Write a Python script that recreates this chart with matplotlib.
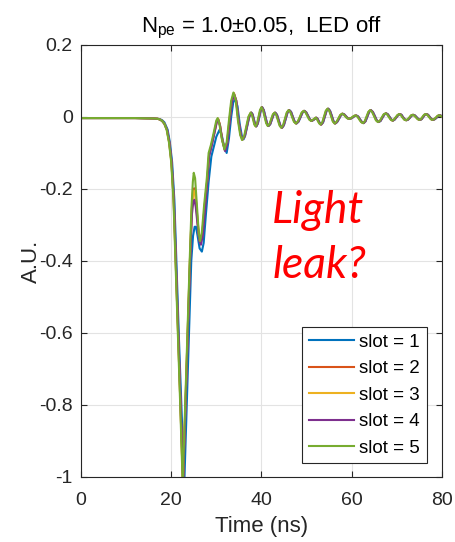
import matplotlib
matplotlib.use("Agg")
import matplotlib.pyplot as plt

plt.rcParams['font.family'] = ['Liberation Sans', 'DejaVu Sans']
plt.rcParams['mathtext.fontset'] = 'custom'
plt.rcParams['mathtext.rm'] = 'Liberation Sans'
plt.rcParams['mathtext.it'] = 'Liberation Sans:italic'

# 单光电子平均波形（按 slot 区分），前段为主脉冲
t_slot1 = [0, 4, 8, 12, 16, 17, 17.5, 18, 18.5, 19.2, 19.7, 20.2, 20.7, 21.2, 21.7, 22.25,
           22.9, 23.45, 23.95, 24.45, 24.85, 25.2, 25.5, 25.85, 26.3, 26.8, 27.2, 27.7, 28.3,
           28.9, 29.4, 30.0, 30.7, 31.2, 31.7, 32.3, 32.8, 33.3, 33.75, 34.2, 34.7, 35.2, 35.7, 36.05]
y_slot1 = [-0.003, -0.003, -0.003, -0.003, -0.004, -0.005, -0.006, -0.009, -0.015, -0.035, -0.07,
           -0.125, -0.23, -0.42, -0.61, -0.80, -1.02, -0.80, -0.60, -0.40, -0.33, -0.305, -0.305,
           -0.33, -0.365, -0.374, -0.35, -0.27, -0.18, -0.11, -0.085, -0.055, -0.036, -0.05, -0.08,
           -0.10, -0.06, 0.0, 0.04, 0.05, 0.03, -0.02, -0.055, -0.062]

t_slot2 = [0, 4, 8, 12, 16, 17, 17.5, 18, 18.5, 19.05, 19.55, 20.05, 20.55, 21.05, 21.55, 22.05,
           22.6, 23.15, 23.65, 24.15, 24.55, 24.85, 25.1, 25.4, 25.8, 26.2, 26.5, 26.9, 27.4, 28.0,
           28.4, 28.9, 29.5, 30.1, 30.4, 30.8, 31.3, 31.9, 32.4, 32.9, 33.4, 33.9, 34.4, 34.9, 35.4, 35.8]
y_slot2 = [-0.003, -0.003, -0.003, -0.003, -0.004, -0.005, -0.007, -0.011, -0.019, -0.036, -0.07,
           -0.125, -0.23, -0.42, -0.61, -0.80, -1.02, -0.80, -0.60, -0.40, -0.26, -0.205, -0.198,
           -0.215, -0.28, -0.335, -0.35, -0.325, -0.25, -0.175, -0.105, -0.08, -0.047, -0.012,
           -0.005, -0.022, -0.062, -0.092, -0.072, -0.012, 0.043, 0.066, 0.046, -0.01, -0.05, -0.063]

t_slot3 = [0, 4, 8, 12, 16, 17, 17.5, 18, 18.5, 19.05, 19.55, 20.05, 20.55, 21.05, 21.55, 22.05,
           22.6, 23.15, 23.65, 24.15, 24.55, 24.85, 25.1, 25.4, 25.8, 26.2, 26.5, 26.9, 27.4, 28.0,
           28.4, 28.9, 29.5, 30.1, 30.4, 30.8, 31.3, 31.9, 32.4, 32.9, 33.4, 33.9, 34.4, 34.9, 35.4, 35.8]
y_slot3 = [-0.003, -0.003, -0.003, -0.003, -0.004, -0.005, -0.007, -0.011, -0.019, -0.036, -0.07,
           -0.125, -0.23, -0.42, -0.61, -0.80, -1.02, -0.80, -0.60, -0.40, -0.265, -0.212, -0.205,
           -0.222, -0.285, -0.338, -0.35, -0.325, -0.25, -0.175, -0.105, -0.08, -0.047, -0.012,
           -0.005, -0.022, -0.062, -0.092, -0.072, -0.012, 0.043, 0.066, 0.046, -0.01, -0.05, -0.063]

t_slot4 = [0, 4, 8, 12, 16, 17, 17.5, 18, 18.5, 19.1, 19.6, 20.1, 20.6, 21.1, 21.6, 22.1,
           22.65, 23.2, 23.7, 24.2, 24.6, 24.9, 25.15, 25.45, 25.85, 26.25, 26.6, 27.0, 27.5, 28.0,
           28.4, 28.9, 29.5, 30.1, 30.45, 30.85, 31.35, 31.95, 32.45, 32.95, 33.45, 33.95, 34.45,
           34.95, 35.45, 35.85]
y_slot4 = [-0.003, -0.003, -0.003, -0.003, -0.004, -0.005, -0.007, -0.011, -0.019, -0.036, -0.07,
           -0.125, -0.23, -0.42, -0.61, -0.80, -1.02, -0.80, -0.60, -0.40, -0.27, -0.235, -0.23,
           -0.25, -0.30, -0.345, -0.355, -0.33, -0.26, -0.18, -0.11, -0.085, -0.05, -0.015,
           -0.008, -0.025, -0.065, -0.095, -0.075, -0.015, 0.04, 0.063, 0.045, -0.01, -0.05, -0.062]

t_slot5 = [0, 4, 8, 12, 16, 17, 17.5, 18, 18.5, 19, 19.5, 20, 20.5, 21, 21.5, 22,
           22.55, 23.1, 23.6, 24.1, 24.5, 24.8, 25.0, 25.3, 25.7, 26.1, 26.4, 26.8, 27.3, 27.9,
           28.3, 28.8, 29.4, 30.0, 30.3, 30.7, 31.2, 31.8, 32.3, 32.8, 33.3, 33.8, 34.3, 34.8, 35.3, 35.7]
y_slot5 = [-0.003, -0.003, -0.003, -0.003, -0.004, -0.005, -0.007, -0.011, -0.019, -0.036, -0.07,
           -0.125, -0.23, -0.42, -0.61, -0.80, -1.02, -0.80, -0.60, -0.40, -0.25, -0.18, -0.155,
           -0.17, -0.245, -0.32, -0.345, -0.32, -0.245, -0.17, -0.10, -0.078, -0.045, -0.01,
           -0.003, -0.02, -0.06, -0.09, -0.07, -0.01, 0.045, 0.068, 0.048, -0.01, -0.05, -0.064]

# 主脉冲之后的振铃（各 slot 共用，仅有小的时间延迟）
t_ring = [36.18, 36.65, 37.13, 37.6, 37.88, 38.15, 38.43, 38.7, 39.03, 39.35, 39.68, 40.0,
          40.35, 40.7, 41.05, 41.4, 41.78, 42.15, 42.53, 42.9, 43.28, 43.65, 44.03, 44.4,
          44.8, 45.2, 45.6, 46.0, 46.4, 46.8, 47.2, 47.6, 48.04, 48.48, 48.91, 49.35,
          49.76, 50.18, 50.59, 51.0, 51.5, 52.0, 52.28, 52.55, 52.83, 53.1, 53.49, 53.88,
          54.26, 54.65, 55.04, 55.43, 55.81, 56.2, 56.61, 57.03, 57.44, 57.85, 58.21, 58.58,
          58.94, 59.3, 59.7, 60.1, 60.5, 60.9, 61.3, 61.7, 62.1, 62.5, 62.9, 63.3, 63.7, 64.1,
          64.53, 64.95, 65.38, 65.8, 66.23, 66.65, 67.08, 67.5, 67.88, 68.25, 68.63, 69.0,
          69.38, 69.75, 70.13, 70.5, 70.88, 71.25, 71.63, 72.0, 72.38, 72.75, 73.13, 73.5,
          73.88, 74.25, 74.63, 75.0, 75.35, 75.7, 76.05, 76.4, 76.78, 77.15, 77.53, 77.9,
          78.28, 78.65, 79.03, 79.4, 79.7, 80.0, 80.5]
y_ring = [-0.053, -0.026, 0.001, 0.012, 0.007, -0.007, -0.021, -0.026, -0.018, 0.0, 0.019, 0.027,
          0.019, 0.001, -0.017, -0.025, -0.020, -0.007, 0.007, 0.012, 0.006, -0.009, -0.024, -0.030,
          -0.023, -0.006, 0.012, 0.019, 0.014, 0.0, -0.013, -0.018, -0.013, -0.001, 0.012, 0.017,
          0.013, 0.003, -0.007, -0.011, -0.007, -0.002, -0.005, -0.012, -0.018, -0.021, -0.015, 0.001,
          0.017, 0.023, 0.017, 0.003, -0.012, -0.018, -0.014, -0.005, 0.005, 0.009, 0.007, 0.002,
          -0.003, -0.005, -0.004, -0.001, 0.003, 0.004, 0.001, -0.007, -0.014, -0.017, -0.012, 0.001, 0.014, 0.019,
          0.014, 0.003, -0.009, -0.014, -0.011, -0.002, 0.007, 0.010, 0.007, 0.0, -0.007, -0.010,
          -0.007, -0.001, 0.005, 0.008, 0.006, -0.001, -0.007, -0.009, -0.007, -0.002, 0.004, 0.006,
          0.004, -0.001, -0.006, -0.008, -0.006, 0.0, 0.006, 0.008, 0.006, 0.0, -0.006, -0.008,
          -0.006, -0.002, 0.003, 0.005, 0.003, 0.001, -0.002]

ring_delay = [0.2, 0.1, 0.1, 0.15, 0.0]

slot_labels = ['slot = 1', 'slot = 2', 'slot = 3', 'slot = 4', 'slot = 5']
slot_colors = ['#0072BD', '#D95319', '#EDB120', '#7E2F8E', '#77AC30']

pulses = [(t_slot1, y_slot1), (t_slot2, y_slot2), (t_slot3, y_slot3),
          (t_slot4, y_slot4), (t_slot5, y_slot5)]

fig = plt.figure(figsize=(4.55, 5.42), dpi=100)
ax = fig.add_axes([0.178, 0.120, 0.793, 0.797])

for (t_p, y_p), d, lab, col in zip(pulses, ring_delay, slot_labels, slot_colors):
    t_all = list(t_p) + [t + d for t in t_ring]
    y_all = list(y_p) + list(y_ring)
    ax.plot(t_all, y_all, color=col, lw=1.5, label=lab)

ax.set_xlim(0, 80)
ax.set_ylim(-1, 0.2)
ax.set_xticks([0, 20, 40, 60, 80])
ax.set_yticks([-1, -0.8, -0.6, -0.4, -0.2, 0, 0.2])
ax.set_yticklabels(['-1', '-0.8', '-0.6', '-0.4', '-0.2', '0', '0.2'])
ax.tick_params(direction='in', length=4, width=0.8, top=True, right=True,
               labelsize=14, colors='#262626', pad=6)
ax.tick_params(axis='x', pad=11)
for sp in ax.spines.values():
    sp.set_color('#262626')
    sp.set_linewidth(0.8)
ax.grid(True, color='#e3e3e3', lw=0.8)
ax.set_axisbelow(True)

ax.set_xlabel('Time (ns)', fontsize=16, color='#262626', labelpad=5)
ax.set_ylabel('A.U.', fontsize=16, color='#262626', labelpad=-2)
ax.set_title('N$_{\\mathrm{pe}}$ = 1.0±0.05,  LED off', fontsize=16, pad=9)

ax.text(42.4, -0.294, 'Light', color='red', fontsize=32, style='italic',
        family=['Lato', 'DejaVu Sans'], va='baseline', ha='left')
ax.text(42.4, -0.447, 'leak?', color='red', fontsize=32, style='italic',
        family=['Lato', 'DejaVu Sans'], va='baseline', ha='left')

leg = ax.legend(loc='lower right', bbox_to_anchor=(0.958, 0.032), fontsize=13.5,
                frameon=True, fancybox=False, framealpha=1, edgecolor='#262626',
                handlelength=2.4, handletextpad=0.3, labelspacing=0.5,
                borderpad=0.35, borderaxespad=0)
leg.get_frame().set_linewidth(0.8)

fig.savefig('out.png', dpi=100)
